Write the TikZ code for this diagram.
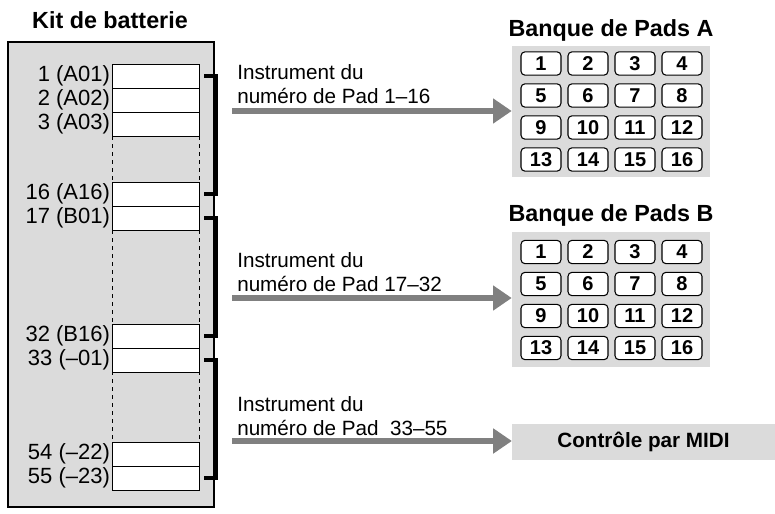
\documentclass[tikz,border=0pt]{standalone}
\usepackage{fontspec}
\setmainfont{Liberation Sans}
\usetikzlibrary{arrows.meta,positioning}
\definecolor{panel}{gray}{0.86}
\definecolor{shaft}{gray}{0.5}
\tikzset{
  slot/.style={draw,fill=white,line width=0.7pt,minimum width=65.25pt,minimum height=18pt,inner sep=0pt},
  slotlabel/.style={anchor=east,font=\fontsize{16.5}{17}\selectfont,inner sep=1pt},
  pad/.style={draw,fill=white,rounded corners=3pt,line width=0.8pt,minimum width=30pt,minimum height=17.5pt,inner sep=0pt,font=\bfseries\fontsize{15}{16}\selectfont},
  title/.style={font=\bfseries\fontsize{17.5}{19}\selectfont},
  bigarrow/.style={draw=shaft,line width=5pt,-{Triangle[length=14pt,width=18pt]}},
  bracket/.style={line width=3.5pt},
  note/.style={anchor=west,font=\fontsize{15.5}{17.5}\selectfont,align=left,inner sep=0pt}
}
\begin{document}
\begin{tikzpicture}[x=0.75pt,y=-0.75pt]
\useasboundingbox (0,0) rectangle (775,514);
% kit
\node[title] (kit) at (110,20) {Kit de batterie};
\draw[fill=panel,line width=1.4pt] (8,42) rectangle (214,507);
\draw[dashed,line width=0.7pt] (112,136) -- (112,182) (199,136) -- (199,182)
  (112,230) -- (112,324) (199,230) -- (199,324)
  (112,371) -- (112,442) (199,371) -- (199,442);
\foreach \nm/\y/\txt in {s1/76/1 (A01),s2/100/2 (A02),s3/124/3 (A03),s16/194/16 (A16),s17/218/17 (B01),
    s32/336/32 (B16),s33/360/33 (--01),s54/454/54 (--22),s55/478/55 (--23)}{
  \node[slot] (\nm) at (155.5,\y) {};
  \node[slotlabel] at (\nm.west) {\txt};
}
% brackets
\draw[bracket] ([xshift=3.75pt]s1.east) -| ([xshift=12pt]s1.east |- s16.east) -- ([xshift=3.75pt]s16.east);
\draw[bracket] ([xshift=3.75pt]s17.east) -| ([xshift=12pt]s17.east |- s32.east) -- ([xshift=3.75pt]s32.east);
\draw[bracket] ([xshift=3.75pt]s33.east) -| ([xshift=12pt]s33.east |- s55.east) -- ([xshift=3.75pt]s55.east);
% bank A
\node[title] (tA) at (611,30) {Banque de Pads A};
\node[fill=panel,minimum width=148.5pt,minimum height=98pt,inner sep=0pt] (bankA) at (611,111.5) {};
\node[title] (tB) at (611,215) {Banque de Pads B};
\node[fill=panel,minimum width=148.5pt,minimum height=101pt,inner sep=0pt] (bankB) at (611,299.5) {};
\foreach \bk/\y in {A/63.5,B/252}{
  \foreach \r in {0,...,3}{
    \foreach \c in {1,...,4}{
      \pgfmathtruncatemacro\n{\r*4+\c}
      \node[pad] (p\bk\n) at (494+47*\c,\y+32*\r) {\n};
    }
  }
}
% midi
\node[fill=panel,minimum width=197pt,minimum height=27pt,inner sep=0pt,
  font=\bfseries\fontsize{15.5}{17}\selectfont] (midi) at (643.5,442) {Contrôle par MIDI};
% arrows
\coordinate (a1) at (232,111);
\coordinate (a2) at (232,298);
\coordinate (a3) at (232,441);
\draw[bigarrow] (a1) -- (a1 -| bankA.west);
\draw[bigarrow] (a2) -- (a2 -| bankB.west);
\draw[bigarrow] (a3) -- (a3 -| midi.west);
\node[note] (n1) at (237,84) {Instrument du\\numéro de Pad 1–16};
\node[note] (n2) at (237,272) {Instrument du\\numéro de Pad 17–32};
\node[note] (n3) at (237,416) {Instrument du\\numéro de Pad\ \ 33–55};
\end{tikzpicture}
\end{document}
